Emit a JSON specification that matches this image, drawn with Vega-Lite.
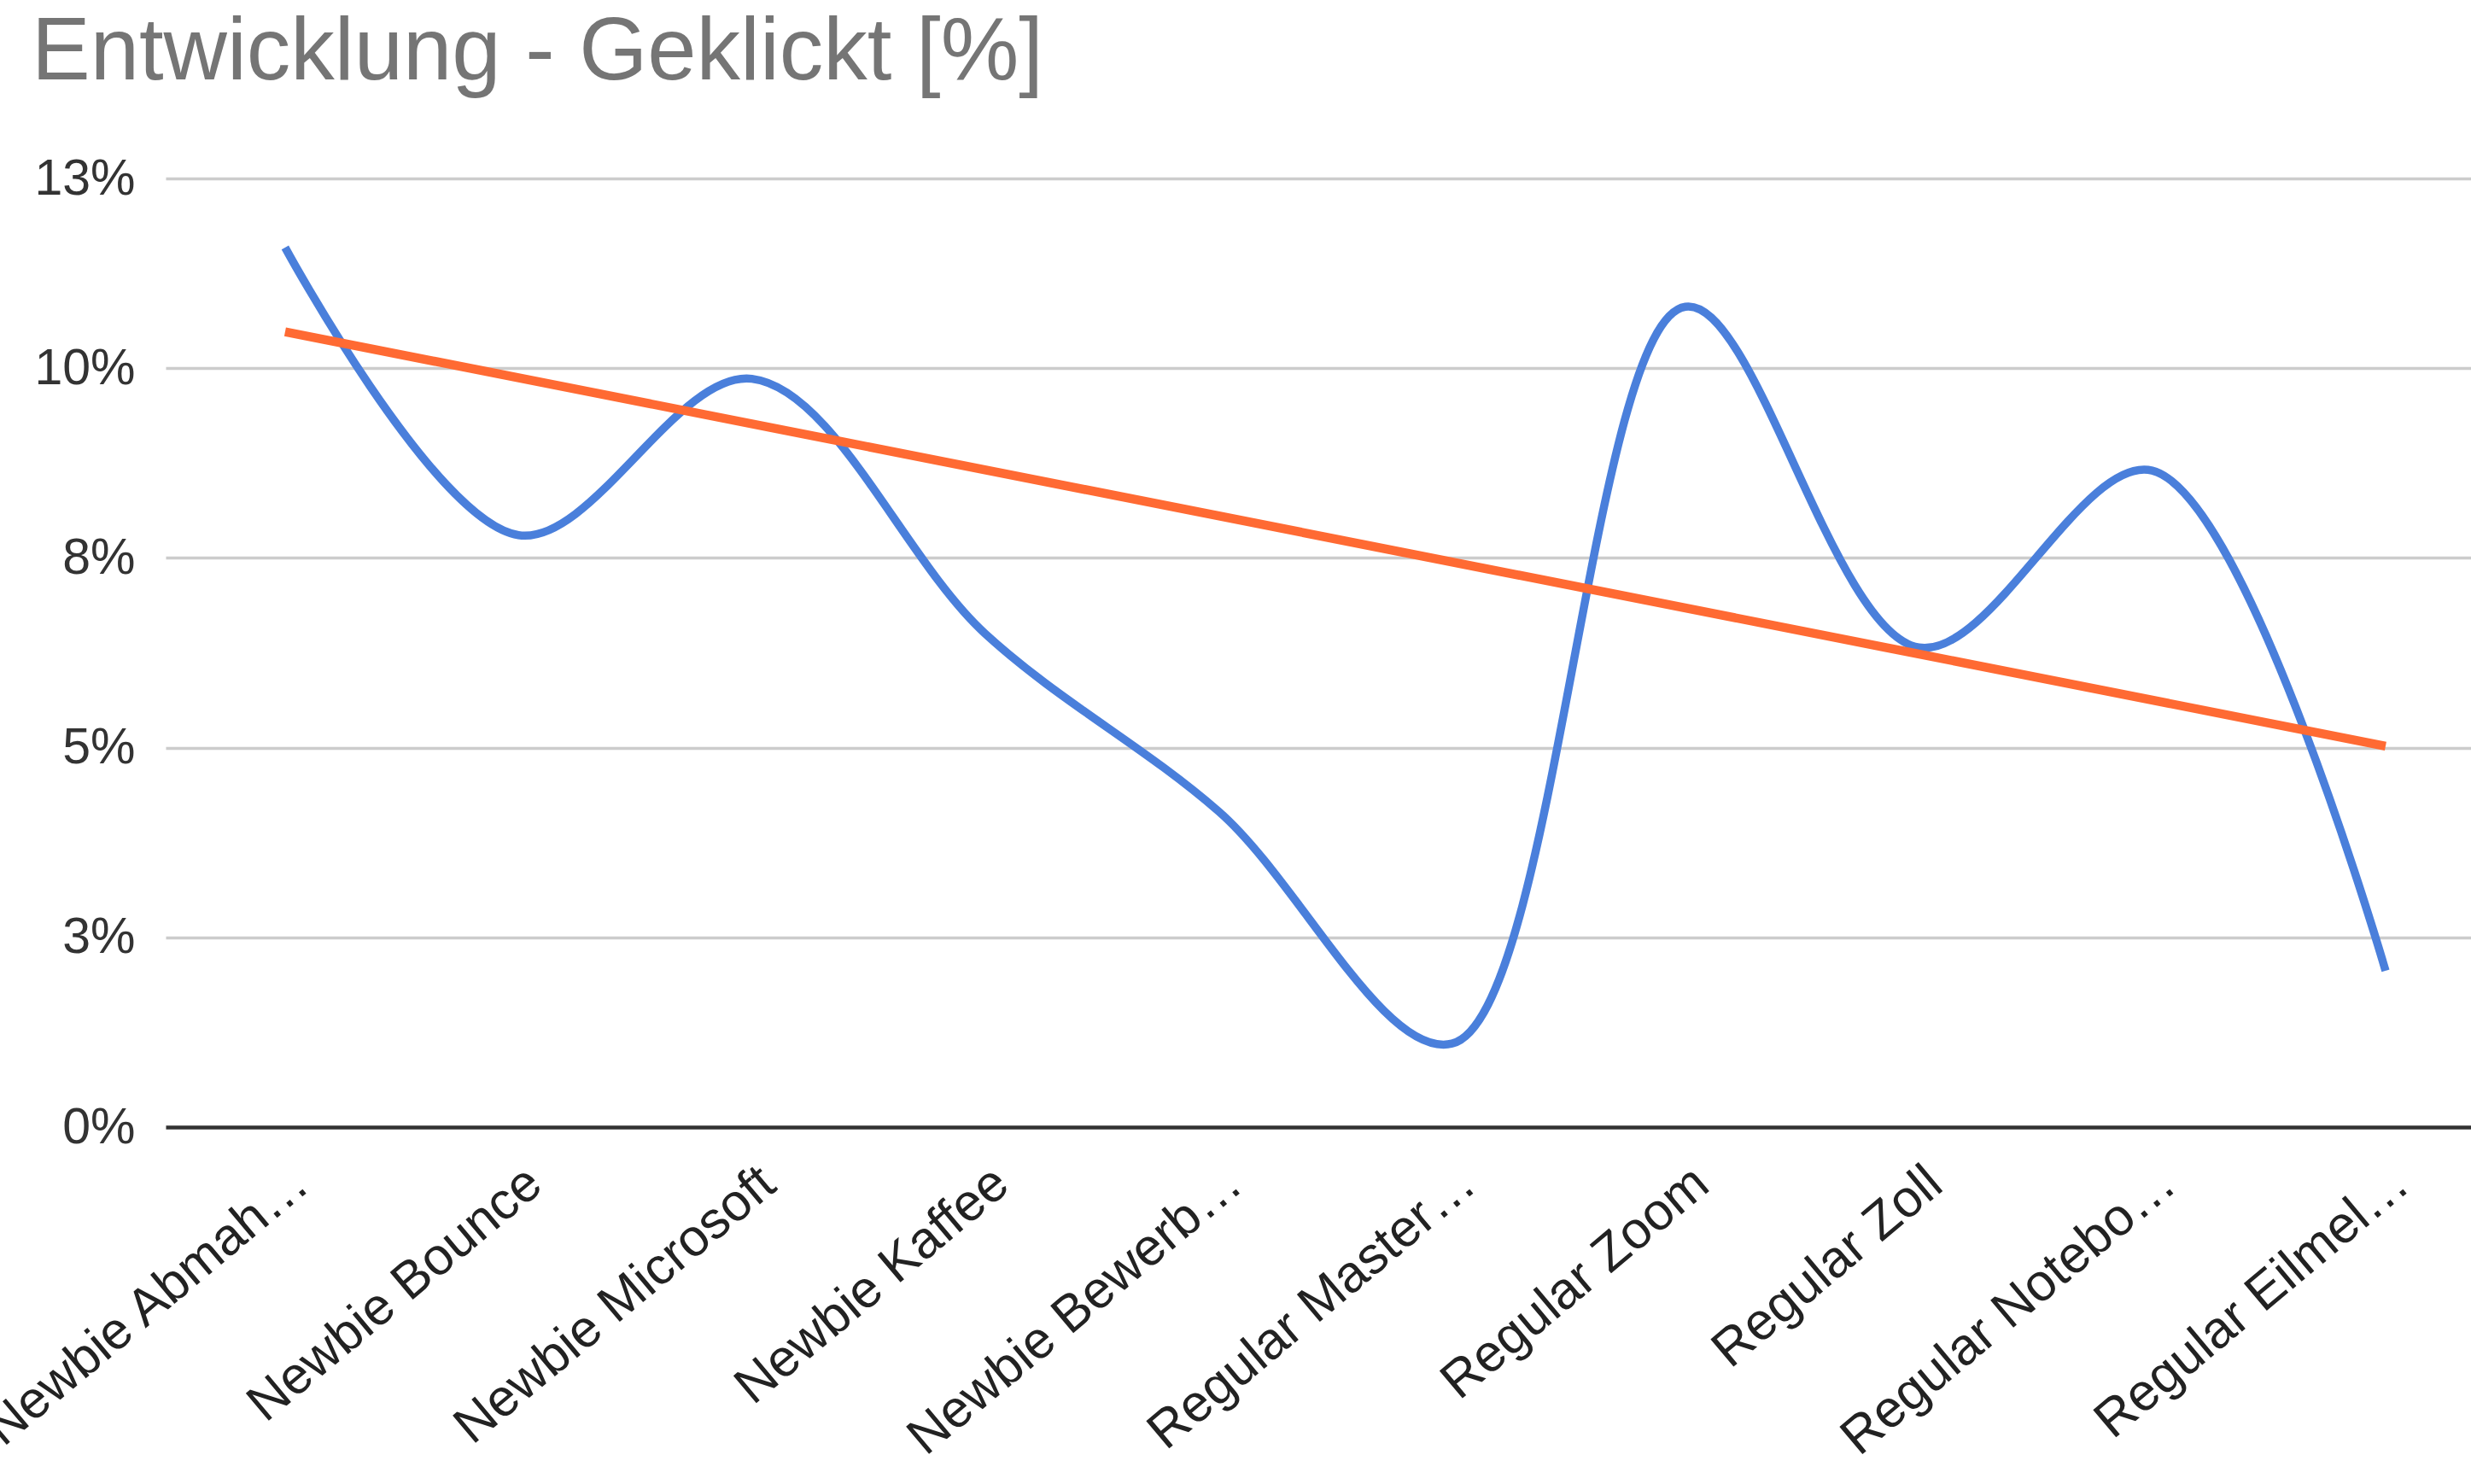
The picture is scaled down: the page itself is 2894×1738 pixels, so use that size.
{
  "$schema": "https://vega.github.io/schema/vega-lite/v6.json",
  "autosize": {"type": "none"},
  "padding": {"left": 194, "top": 209, "right": 0, "bottom": 418},
  "width": 2700,
  "height": 1111,
  "background": "white",
  "title": {
    "text": "Entwicklung - Geklickt [%]",
    "anchor": "start",
    "frame": "group",
    "font": "Liberation Sans",
    "fontSize": 103,
    "fontWeight": "normal",
    "color": "#757575",
    "baseline": "alphabetic",
    "offset": 92,
    "dx": -157,
    "dy": 108
  },
  "datasets": {
    "series": [
      {"kategorie": "Newbie Abmah…", "geklickt": 11.59},
      {"kategorie": "Newbie Bounce", "geklickt": 7.80},
      {"kategorie": "Newbie Microsoft", "geklickt": 9.86},
      {"kategorie": "Newbie Kaffee", "geklickt": 6.5},
      {"kategorie": "Newbie Bewerb…", "geklickt": 4.16},
      {"kategorie": "Regular Master…", "geklickt": 1.1},
      {"kategorie": "Regular Zoom", "geklickt": 10.81},
      {"kategorie": "Regular Zoll", "geklickt": 6.32},
      {"kategorie": "Regular Notebo…", "geklickt": 8.65},
      {"kategorie": "Regular Eilmel…", "geklickt": 2.06}
    ],
    "trend": [
      {"kategorie": "Newbie Abmah…", "geklickt": 10.48},
      {"kategorie": "Regular Eilmel…", "geklickt": 5.02}
    ]
  },
  "config": {
    "view": {"stroke": null},
    "axis": {"labelFont": "Liberation Sans", "titleFont": "Liberation Sans"}
  },
  "layer": [
    {
      "data": {"name": "series"},
      "mark": {"type": "line", "interpolate": "catmull-rom", "color": "#4a7fdb", "strokeWidth": 9.5, "strokeCap": "butt"},
      "encoding": {
        "x": {
          "field": "kategorie",
          "type": "nominal",
          "sort": null,
          "scale": {"type": "point", "padding": 0.439, "align": 0.583},
          "axis": {
            "title": null,
            "domain": false,
            "ticks": false,
            "grid": false,
            "labelAngle": -40,
            "labelAlign": "right",
            "labelBaseline": "middle",
            "labelFontSize": 61,
            "labelColor": "#222222",
            "labelPadding": 58,
            "labelOffset": 19,
            "labelLimit": 0
          }
        },
        "y": {
          "field": "geklickt",
          "type": "quantitative",
          "scale": {"domain": [0, 12.5], "nice": false, "zero": true},
          "axis": {
            "title": null,
            "domain": false,
            "ticks": false,
            "values": [0, 2.5, 5, 7.5, 10, 12.5],
            "labelExpr": "round(datum.value) + '%'",
            "labelFontSize": 59,
            "labelColor": "#333333",
            "labelPadding": 36,
            "grid": true,
            "gridColor": {"condition": {"test": "datum.value === 0", "value": "#333333"}, "value": "#cccccc"},
            "gridWidth": {"condition": {"test": "datum.value === 0", "value": 4.5}, "value": 3.5}
          }
        }
      }
    },
    {
      "data": {"name": "trend"},
      "mark": {"type": "line", "color": "#ff6a33", "strokeWidth": 10.5, "strokeCap": "butt"},
      "encoding": {
        "x": {"field": "kategorie", "type": "nominal", "sort": null},
        "y": {"field": "geklickt", "type": "quantitative"}
      }
    }
  ]
}
